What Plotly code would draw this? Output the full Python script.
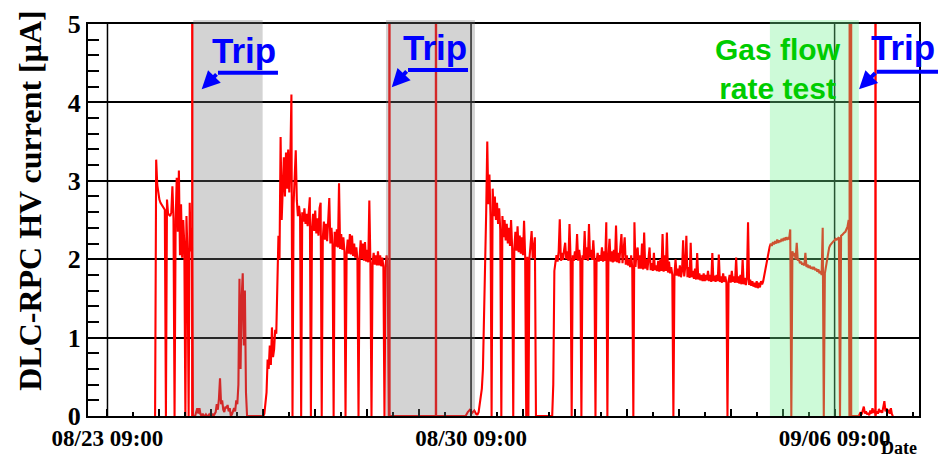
import pandas as pd
import plotly.graph_objects as go

BASE = pd.Timestamp("2022-08-23 00:00")

# ---- data: HV current [uA], sampled segments (start hour since 08/23 00:00, step in hours, values)
seg_a_start, seg_a_step = 31.0, 0.5
seg_a = [0, 3.27, 2.95, 2.82, 2.76, 2.72, 2.70, 2.67, 2.65, 2.63,
         0, 2.76, 2.58, 2.56, 2.55, 2.60, 2.93, 2.52, 0, 2.48,
         3.04, 2.35, 3.13, 2.05, 2.70, 2.02, 2.50, 2.20, 0, 2.55,
         2.05, 0, 2.72, 2.10, 2.40, 0]

idle1_start, idle1_step = 49.0, 0.5
idle1 = [0, 0, 0.05, 0.1, 0.03, 0.1, 0.02, 0, 0.03, 0,
         0, 0.02, 0, 0, 0.02, 0, 0, 0.03, 0, 0.02,
         0.05, 0.15, 0.08, 0.22, 0.48, 0.15, 0.2, 0.08, 0.05, 0.12,
         0.1, 0.14, 0.06, 0.1, 0, 0.02, 0.05, 0.1, 0.06, 0.2,
         0.15, 0.4, 1.75, 0.6, 1.5, 1.82, 0.9, 1.6, 0.3, 0,
         0, 0, 0, 0, 0, 0, 0, 0, 0, 0, 0, 0, 0, 0, 0]

seg_b_start, seg_b_step = 81.5, 0.5
seg_b = [0.03, 0.17, 0.3, 0.72, 0.6, 0.9, 0.65, 1.13, 0.75, 0.85,
         1.1, 1.05, 1.6, 2.3, 2.0, 3.56, 2.5, 2.9, 3.3, 2.8,
         3.36, 2.9, 3.4, 2.85, 3.3, 4.1, 0, 2.7, 3.2, 3.39,
         2.75, 2.55, 2.68, 2.55, 0, 2.6, 2.48, 2.65, 2.45, 2.58,
         2.42, 2.6, 2.79, 0, 2.4, 2.58, 2.36, 2.62, 2.33, 2.52,
         2.3, 2.65, 2.72, 0, 2.27, 2.48, 2.25, 2.45, 2.23, 2.5,
         2.78, 2.2, 2.4, 2.19, 0, 2.35, 2.16, 2.38, 2.15, 2.97,
         2.13, 2.32, 2.12, 2.28, 2.1, 0, 2.08, 2.25, 2.07, 2.32,
         2.06, 2.3, 2.04, 2.2, 2.02, 2.15, 2.0, 0, 2.02, 2.24,
         2.0, 2.2, 1.98, 2.22, 1.97, 2.12, 1.96, 2.75, 1.95, 0,
         1.95, 2.08, 1.93, 2.05, 1.92, 2.1, 1.92, 2.05, 1.91, 2.02,
         1.9, 0, 1.92, 2.05, 1.9, 0]

idle2_start, idle2_step = 139.5, 1.0
idle2 = [0] * 36 + [0.05, 0.08, 0.04, 0.07, 0.02]

seg_c_start, seg_c_step = 180.0, 0.5
seg_c = [0.02, 0.05, 0.15, 0.3, 0.35, 0.6, 1.2, 1.65, 2.6, 3.5,
         2.7, 3.08, 2.55, 0, 2.9, 2.55, 2.8, 2.5, 2.72, 2.45,
         2.65, 2.38, 0, 2.55, 2.28, 2.5, 2.24, 2.45, 2.2, 2.4,
         2.17, 2.5, 2.15, 0, 2.13, 2.35, 2.11, 2.42, 2.09, 2.3,
         2.07, 2.28, 2.05, 2.49, 2.04, 0, 2.03, 0, 2.02, 2.18,
         2.36, 2.01, 2.15, 2.28, 0]

idle3_start, idle3_step = 207.5, 1.0
idle3 = [0, 0, 0, 0, 0, 0, 0, 0]

seg_d_start, seg_d_step = 215.0, 0.5
seg_d = [0.4, 1.85, 1.96, 2.05, 1.97, 2.1, 2.51, 1.98, 2.08, 1.99,
         2.12, 2.21, 2.0, 2.1, 1.98, 2.45, 2.0, 0, 2.05, 1.98,
         2.1, 2.0, 2.32, 1.98, 2.12, 2.0, 0, 2.05, 1.99, 2.36,
         2.0, 2.15, 1.98, 2.45, 2.02, 2.12, 1.99, 2.24, 2.0, 0,
         1.98, 2.08, 1.97, 2.05, 1.98, 2.15, 1.97, 2.1, 1.98, 2.47,
         0, 2.05, 2.26, 1.97, 2.1, 1.96, 2.12, 1.97, 2.43, 1.96,
         2.08, 1.95, 2.15, 2.32, 1.95, 2.1, 2.28, 1.93, 2.05, 1.92,
         2.0, 1.9, 2.05, 1.89, 0, 2.47, 1.9, 2.1, 2.15, 1.88,
         2.05, 1.88, 2.2, 1.87, 2.34, 1.88, 2.0, 1.86, 2.05, 2.15,
         1.86, 1.95, 1.85, 2.08, 1.86, 1.92, 1.85, 1.98, 1.84, 2.0,
         1.85, 2.32, 1.84, 2.05, 1.85, 2.34, 1.83, 1.97, 1.82, 1.9,
         1.8, 0, 1.8, 2.0, 1.79, 1.88, 1.78, 1.92, 1.77, 1.85,
         2.24, 1.78, 1.9, 2.3, 1.77, 1.9, 1.76, 2.21, 1.77, 1.85,
         1.75, 1.88, 1.74, 2.08, 1.74, 1.82, 1.73, 1.8, 1.72, 1.82,
         1.72, 1.8, 1.73, 1.85, 1.72, 1.8, 1.71, 2.08, 1.72, 1.79,
         1.71, 1.8, 1.72, 2.06, 1.71, 1.78, 1.7, 1.82, 1.71, 1.78,
         1.7, 0, 1.72, 1.8, 1.7, 1.85, 1.71, 1.78, 1.7, 2.02,
         1.7, 1.78, 1.69, 1.8, 1.68, 2.0, 1.68, 1.76, 1.67, 1.75,
         2.47, 1.67, 1.74, 1.66, 1.72, 1.65, 1.7, 1.64, 1.72, 1.63,
         1.7, 1.64, 1.72, 1.68, 1.72, 1.8, 1.88, 1.95, 2.02, 2.1,
         2.16, 2.2, 2.17, 2.22, 2.19, 2.23, 2.2, 2.25, 2.21, 2.24,
         2.22, 2.26, 2.23, 2.27, 2.24, 2.28, 2.25, 2.27, 2.26, 2.38,
         0, 2.1, 2.04, 2.08, 2.0, 2.21, 1.98, 2.0, 1.95, 1.97,
         1.93, 1.95, 1.92, 2.08, 1.9, 1.93, 1.89, 1.92, 1.88, 1.9,
         1.87, 1.9, 1.86, 1.88, 1.84, 1.87, 1.82, 1.85, 1.8, 2.4,
         0, 1.82, 1.92, 2.02, 2.1, 2.15, 2.18, 2.2, 2.22, 2.23,
         2.24, 2.26, 2.25, 2.27, 2.28, 0, 2.3, 2.31, 2.33, 2.34,
         2.35, 2.38, 2.42, 2.5, 0]

idle4_start, idle4_step = 352.5, 0.5
idle4 = [0, 0, 0, 0, 0, 0, 0, 0,
         0.02, 0.05, 0.02, 0.08, 0.12, 0.03, 0.06, 0.02, 0.04, 0.01,
         0.07, 0.03, 0.1, 0.04, 0.08, 0.02, 0.06, 0.03, 0.09, 0.05,
         0.07, 0.04, 0.12, 0.19, 0.06, 0.1, 0.04, 0.08, 0.03, 0.1,
         0.02, 0]

# trips: current jumps off-scale (hours since 08/23 00:00)
trip_hours = [48.2, 139.3, 160.8, 352.0, 352.6, 363.9]
trip_top = 6.0

# shaded periods (hours)
trip_periods = [(48.65, 80.7), (137.7, 178.8)]
gas_test_period = (315.1, 356.2)

x_tick_labels = ["08/23 09:00", "08/30 09:00", "09/06 09:00"]
x_label_days = [0, 7, 14]

segments = [(seg_a_start, seg_a_step, seg_a), (idle1_start, idle1_step, idle1),
            (seg_b_start, seg_b_step, seg_b), (idle2_start, idle2_step, idle2),
            (seg_c_start, seg_c_step, seg_c), (idle3_start, idle3_step, idle3),
            (seg_d_start, seg_d_step, seg_d), (idle4_start, idle4_step, idle4)]

def t(h):
    return BASE + pd.Timedelta(hours=h)

xs, ys = [], []
for start, step, vals in segments:
    for i, v in enumerate(vals):
        xs.append(t(start + i * step))
        ys.append(v)

sx, sy = [], []
for h in trip_hours:
    sx += [t(h), t(h), None]
    sy += [0, trip_top, None]

SERIF = "Liberation Serif"
SANS = "Liberation Sans"
RED = "#ff0000"

fig = go.Figure()
fig.add_trace(go.Scatter(x=xs, y=ys, mode="lines", line=dict(color=RED, width=2.1),
                         showlegend=False, hoverinfo="skip"))
fig.add_trace(go.Scatter(x=sx, y=sy, mode="lines", line=dict(color=RED, width=2.4),
                         showlegend=False, hoverinfo="skip"))

shapes = []
# vertical grid lines at labelled dates
first_label = BASE + pd.Timedelta(hours=9)
for d in x_label_days:
    shapes.append(dict(type="line", xref="x", yref="paper",
                       x0=first_label + pd.Timedelta(days=d), x1=first_label + pd.Timedelta(days=d),
                       y0=0, y1=1, line=dict(color="black", width=1.5), layer="below"))
for a, b in trip_periods:
    shapes.append(dict(type="rect", xref="x", yref="paper", x0=t(a), x1=t(b), y0=0, y1=1.01,
                       fillcolor="rgba(121,121,121,0.33)", line=dict(width=0), layer="above"))
shapes.append(dict(type="rect", xref="x", yref="paper", x0=t(gas_test_period[0]), x1=t(gas_test_period[1]),
                   y0=0, y1=1.01, fillcolor="rgba(113,241,142,0.35)", line=dict(width=0), layer="above"))

BLUE = "#0000ff"
# underline bars of the "Trip" labels
for x0, x1, y in [(0.1564, 0.2286, 0.8759), (0.3851, 0.4573, 0.8828), (0.9491, 1.03, 0.8785)]:
    shapes.append(dict(type="line", xref="paper", yref="paper", x0=x0, x1=x1, y0=y, y1=y,
                       line=dict(color=BLUE, width=4), layer="above"))

annotations = []
for x, y in [(0.1875, 0.9312), (0.4173, 0.9389), (0.9807, 0.9389)]:
    annotations.append(dict(text="Trip", xref="paper", yref="paper", x=x, y=y, showarrow=False,
                            xanchor="center", yanchor="middle",
                            font=dict(family=SANS, size=35, color=BLUE, weight="bold")))
for x, y, ax, ay in [(0.1368, 0.8336, 16.3, -16.3), (0.3655, 0.8387, 16.3, -17.3), (0.9278, 0.8336, 17.7, -17.6)]:
    annotations.append(dict(text="", xref="paper", yref="paper", x=x, y=y, ax=ax, ay=ay,
                            showarrow=True, arrowhead=2, arrowsize=0.9, arrowwidth=4,
                            arrowcolor=BLUE, standoff=0, startstandoff=0))
annotations.append(dict(text="Gas flow<br>rate test", xref="paper", yref="paper", x=0.8303, y=0.8854,
                        showarrow=False, xanchor="center", yanchor="middle", align="center",
                        font=dict(family=SANS, size=30, color="#00cc00", weight="bold")))
annotations.append(dict(text="DLC-RPC HV current [\u03bcA]", xref="paper", yref="paper",
                        x=-0.0698, y=0.549, textangle=-90, showarrow=False,
                        xanchor="center", yanchor="middle",
                        font=dict(family=SERIF, size=32, color="black", weight="bold")))
annotations.append(dict(text="Date", xref="paper", yref="paper", x=1.0, y=-0.0828, showarrow=False,
                        xanchor="right", yanchor="middle",
                        font=dict(family=SERIF, size=18, color="black", weight="bold")))

day_ticks = [first_label + pd.Timedelta(days=k) for k in range(16)]
day_text = []
for k in range(16):
    day_text.append(x_tick_labels[x_label_days.index(k)] if k in x_label_days else "")

fig.update_layout(
    width=938, height=457,
    margin=dict(l=88, r=19, t=24, b=41, autoexpand=False),
    paper_bgcolor="white", plot_bgcolor="white",
    shapes=shapes, annotations=annotations,
    xaxis=dict(type="date", range=[BASE, BASE + pd.Timedelta(days=16)], automargin=False,
               tickmode="array", tickvals=day_ticks, ticktext=day_text,
               ticks="inside", ticklen=7, tickwidth=1.5, tickcolor="black",
               minor=dict(dtick=12 * 3600 * 1000, tick0=first_label, ticks="inside",
                          ticklen=4, tickwidth=1.5, tickcolor="black", showgrid=False),
               showgrid=False, zeroline=False, showline=True, mirror=True,
               linecolor="black", linewidth=2,
               tickfont=dict(family=SERIF, size=23, color="black", weight="bold")),
    yaxis=dict(range=[0, 5], tickmode="array", tickvals=[0, 1, 2, 3, 4, 5], automargin=False,
               ticktext=["0", "1", "2", "3", "4", "5"],
               ticks="inside", ticklen=11, tickwidth=1.5, tickcolor="black",
               minor=dict(dtick=0.2, ticks="inside", ticklen=11, tickwidth=1.5,
                          tickcolor="black", showgrid=False),
               showgrid=True, gridcolor="black", gridwidth=1.5, zeroline=False,
               showline=True, mirror=True, linecolor="black", linewidth=2,
               tickfont=dict(family=SERIF, size=26, color="black", weight="bold")),
)

fig.write_html("out.html")
